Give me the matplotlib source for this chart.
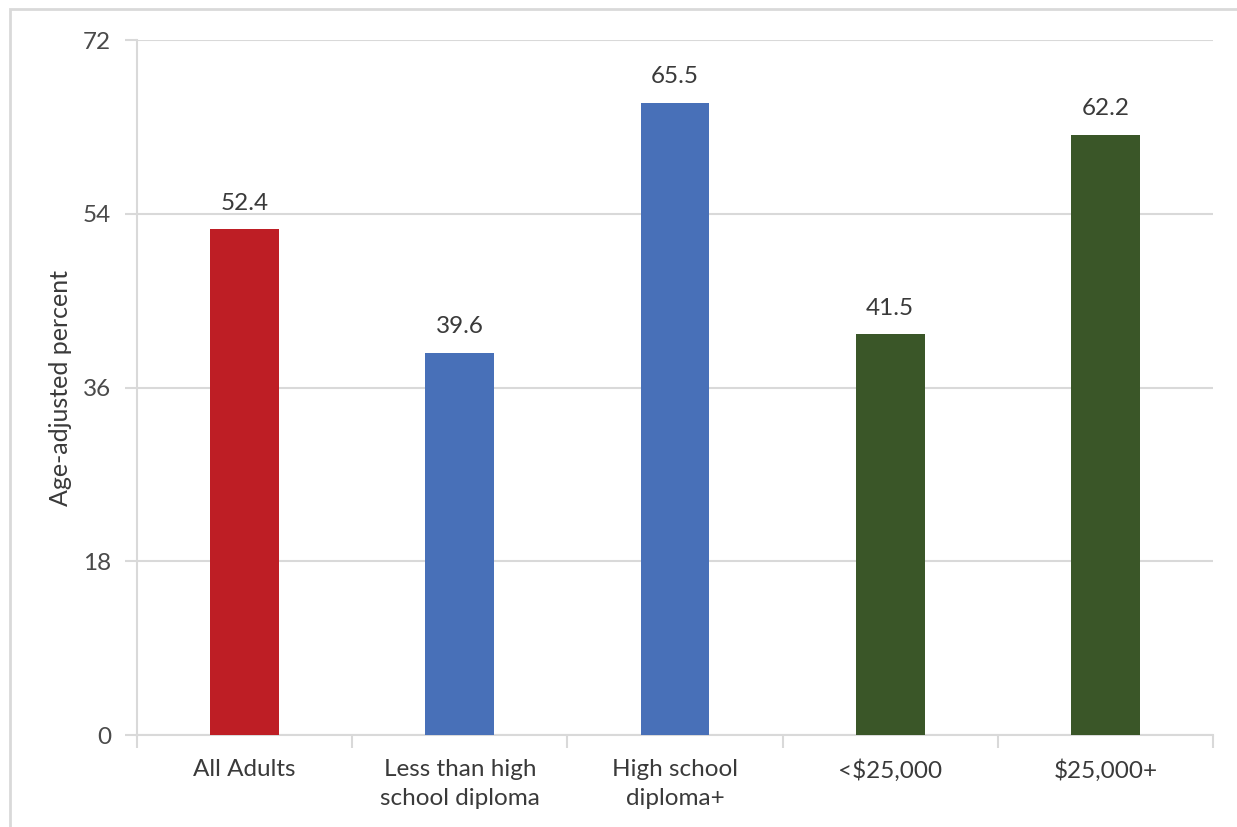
import matplotlib.pyplot as plt
from matplotlib.patches import Rectangle

categorias = ['All Adults', 'Less than high\nschool diploma', 'High school\ndiploma+', '<$25,000', '$25,000+']
valores = [52.4, 39.6, 65.5, 41.5, 62.2]
cores = ['#BE1E25', '#4870B8', '#4870B8', '#3A5628', '#3A5628']
yticks = [0, 18, 36, 54, 72]

plt.rcParams['font.family'] = ['Lato', 'DejaVu Sans']

fig = plt.figure(figsize=(12.37, 8.27), dpi=100)
W, H = 1237, 827
ax = fig.add_axes([137/W, 1-735/H, (1213-137)/W, (735-40)/H])

# moldura da figura (so topo e esquerda aparecem)
fig.patches.append(Rectangle((10/W, -0.1), 1.2, (1-9/H)+0.1, transform=fig.transFigure,
                             fill=False, edgecolor='#D9D9D9', linewidth=2))

x = list(range(len(categorias)))
ax.bar(x, valores, width=0.32, color=cores, zorder=3)
for i, v in enumerate(valores):
    ax.annotate(f'{v}', (i, v), xytext=(0, 11), textcoords='offset points',
                ha='center', va='bottom', fontsize=17.5, color='#3A3A3A')

ax.set_xlim(-0.5, len(categorias)-0.5)
ax.set_ylim(0, 72)
ax.set_yticks(yticks)
ax.set_yticklabels([str(t) for t in yticks], fontsize=17.5, color='#4A4A4A')
ax.yaxis.grid(True, color='#D9D9D9', linewidth=1.5, zorder=0)
ax.set_xticks(x)
ax.set_xticklabels(categorias, fontsize=17.5, color='#3A3A3A', linespacing=1.45)
ax.tick_params(axis='x', length=0, pad=17.5)
ax.tick_params(axis='y', length=9, color='#D9D9D9', width=1.5, pad=9.5)
# marcas entre categorias
ax.set_xticks([i-0.5 for i in range(len(categorias)+1)], minor=True)
ax.tick_params(axis='x', which='minor', length=9, color='#D9D9D9', width=1.5)

for s in ['top', 'right']:
    ax.spines[s].set_visible(False)
ax.spines['left'].set_color('#D9D9D9')
ax.spines['bottom'].set_color('#D9D9D9')
ax.spines['left'].set_linewidth(1.5)
ax.spines['bottom'].set_linewidth(1.5)

ax.set_ylabel('Age-adjusted percent', fontsize=18, color='#3A3A3A', labelpad=8)

plt.savefig('out.png', dpi=100)
